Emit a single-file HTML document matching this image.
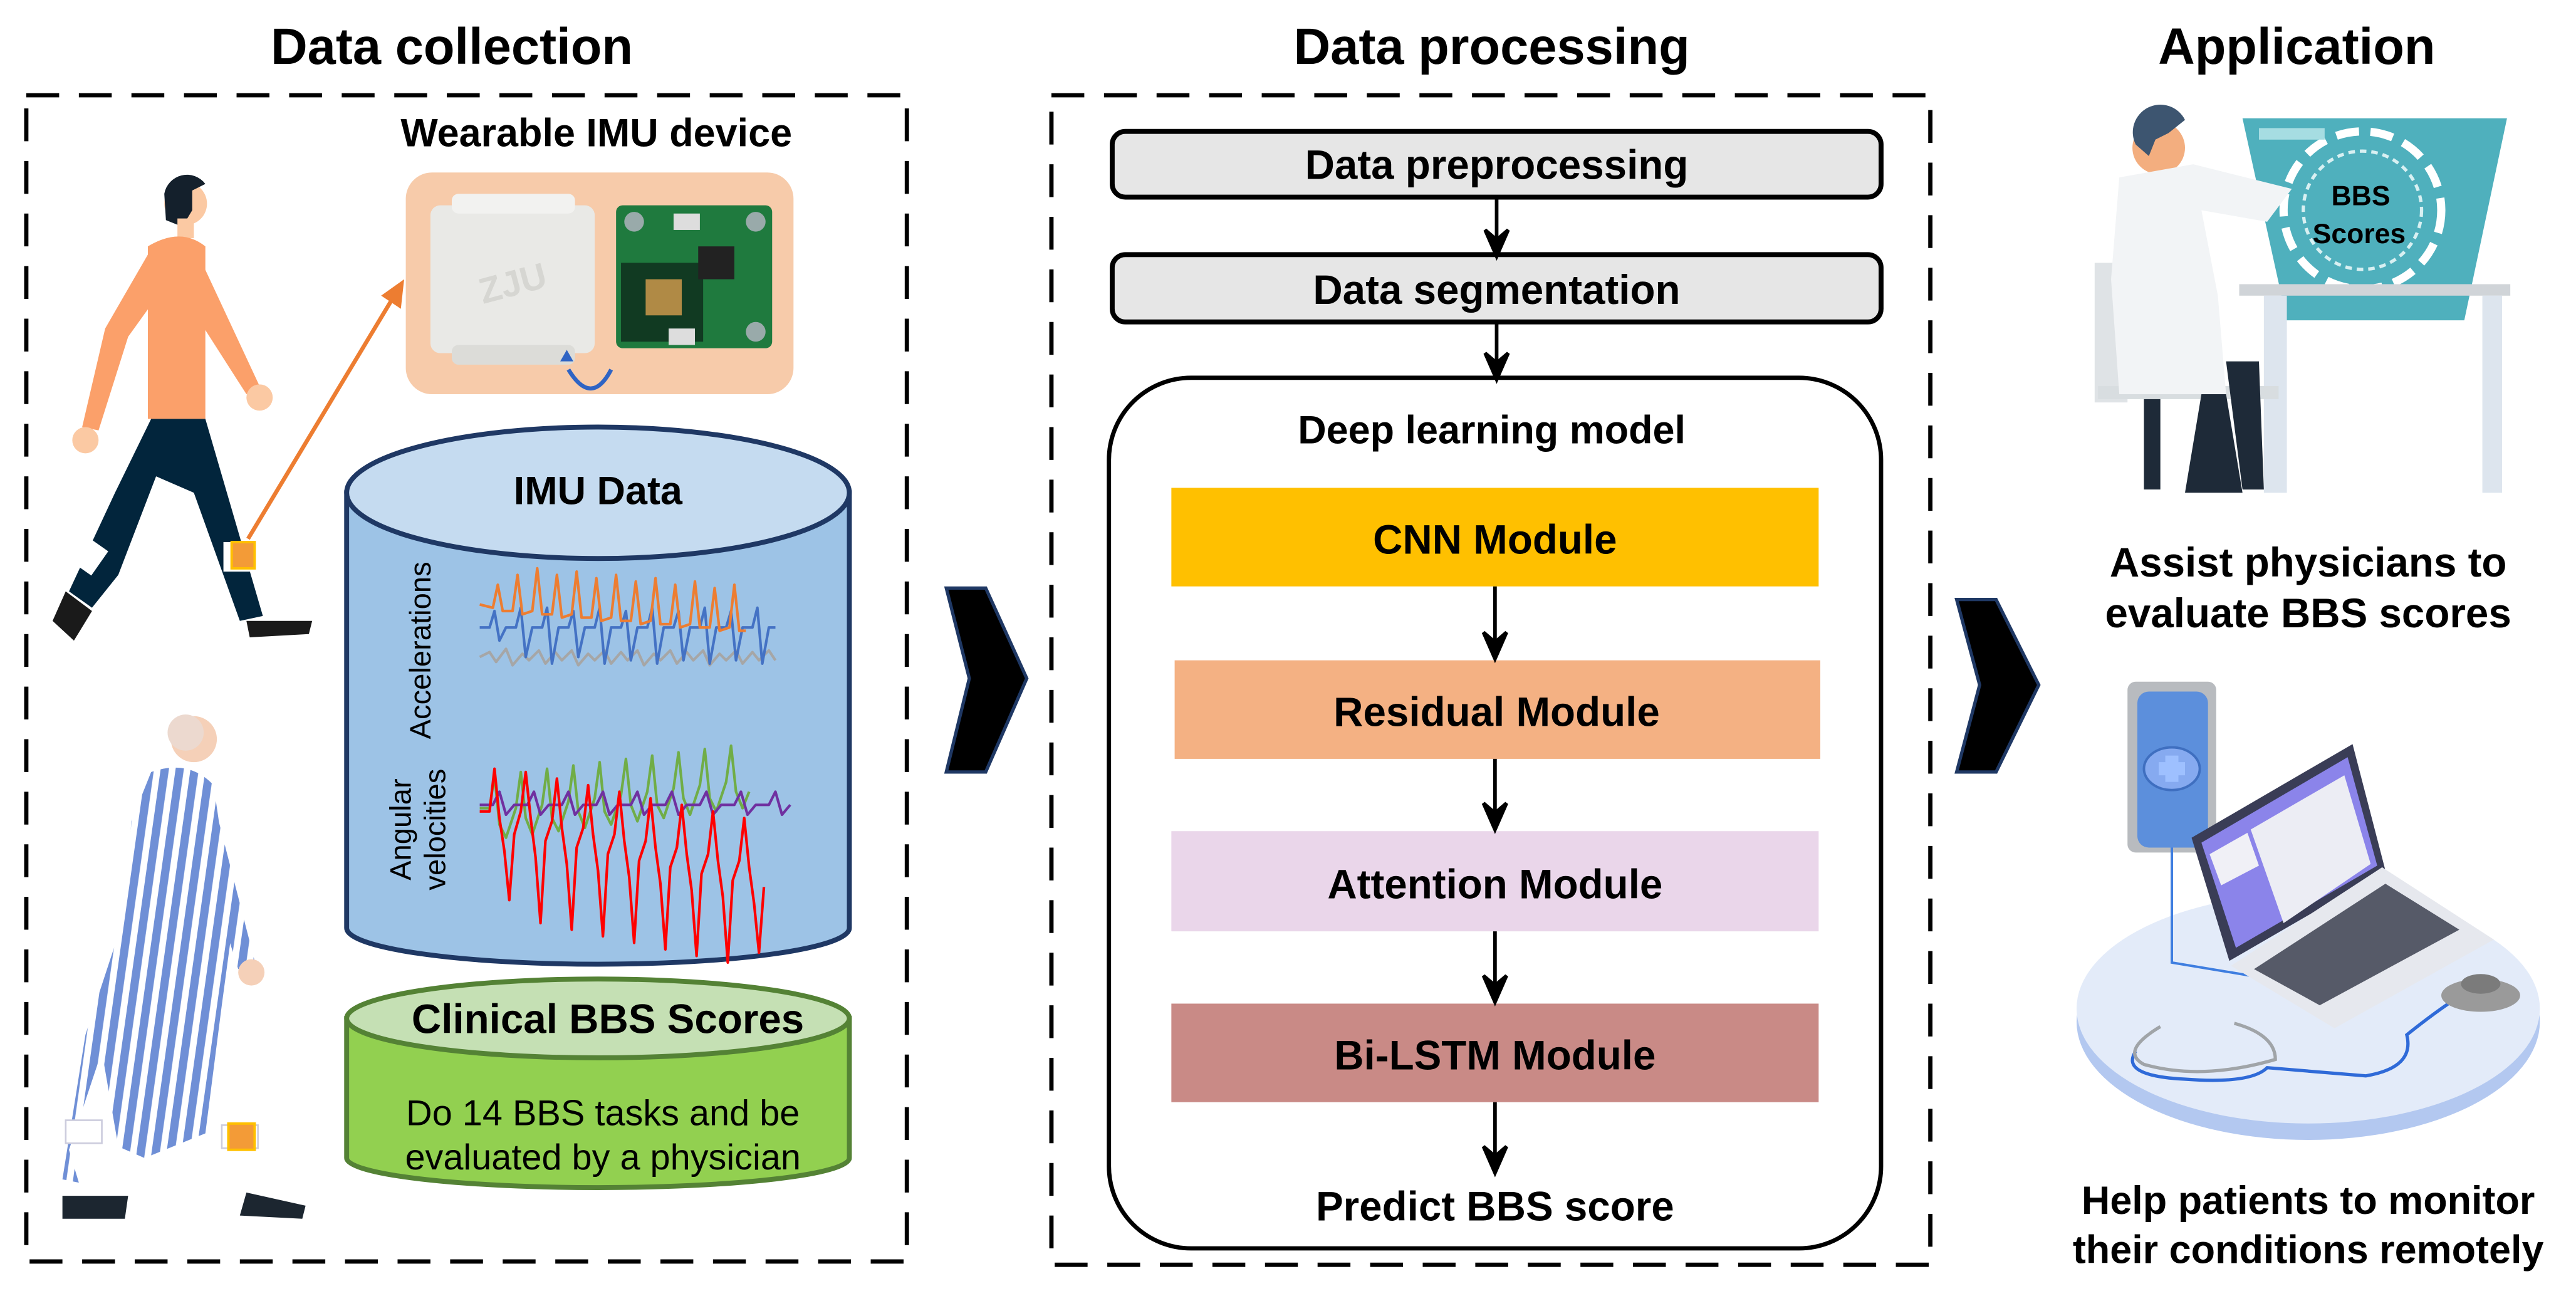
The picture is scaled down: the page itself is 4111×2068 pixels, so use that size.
<!DOCTYPE html>
<html><head><meta charset="utf-8"><style>
html,body{margin:0;padding:0;background:#fff;}
svg{display:block}
text{font-family:"Liberation Sans",Arial,sans-serif;}
.b{font-weight:bold}
</style></head><body>
<svg width="4111" height="2068" viewBox="0 0 1568 789" preserveAspectRatio="none" xmlns="http://www.w3.org/2000/svg">
<defs>
<pattern id="str" width="9" height="9" patternUnits="userSpaceOnUse" patternTransform="rotate(8)">
<rect width="9" height="9" fill="#fff"/><rect width="5" height="9" fill="#6f8fd6"/></pattern>
</defs>
<!-- titles -->
<text x="275" y="39" font-size="31" class="b" text-anchor="middle">Data collection</text>
<text x="908" y="39" font-size="31" class="b" text-anchor="middle">Data processing</text>
<text x="1398" y="39" font-size="31" class="b" text-anchor="middle">Application</text>
<!-- dashed boxes -->
<rect x="16" y="58" width="536" height="710" fill="none" stroke="#000" stroke-width="2.6" stroke-dasharray="20 12"/>
<rect x="640" y="58" width="535" height="712" fill="none" stroke="#000" stroke-width="2.6" stroke-dasharray="20 12"/>

<!-- wearable -->
<text x="363" y="89" font-size="24" class="b" text-anchor="middle">Wearable IMU device</text>
<rect x="247" y="105" width="236" height="135" rx="16" fill="#f7cbaa"/>
<rect x="262" y="125" width="100" height="90" rx="6" fill="#e9e9e6"/>
<rect x="275" y="118" width="75" height="12" rx="4" fill="#f2f2f0"/>
<rect x="275" y="210" width="75" height="12" rx="4" fill="#dcdcd8"/>
<text x="312" y="180" font-size="22" class="b" fill="#d6d6d2" text-anchor="middle" transform="rotate(-15 312 172)">ZJU</text>
<rect x="375" y="125" width="95" height="87" rx="4" fill="#1f7a3e"/>
<rect x="378" y="160" width="50" height="48" fill="#113a22"/>
<rect x="393" y="170" width="22" height="22" fill="#b08a45"/>
<rect x="425" y="150" width="22" height="20" fill="#222"/>
<rect x="410" y="130" width="16" height="10" fill="#ddd"/>
<rect x="407" y="200" width="16" height="10" fill="#ddd"/>
<circle cx="386" cy="135" r="6" fill="#9aa"/><circle cx="460" cy="135" r="6" fill="#9aa"/><circle cx="460" cy="202" r="6" fill="#9aa"/>
<path d="M346,225 Q360,248 372,225" fill="none" stroke="#2f64c4" stroke-width="2.5"/>
<path d="M341,220 l4,-7 l4,7z" fill="#2f64c4"/>
<line x1="151" y1="328" x2="240" y2="180" stroke="#ed7d31" stroke-width="2.5"/>
<path d="M246,170 L232,180 L244,188z" fill="#ed7d31"/>

<!-- walking man -->
<circle cx="113" cy="124" r="13" fill="#fbc9a3"/>
<path d="M100,118 a14,14 0 0 1 25,-6 l-8,4 l0,12 l-6,10 l-10,-4z" fill="#14202c"/>
<rect x="108" y="133" width="10" height="12" fill="#fbc9a3"/>
<path d="M90,150 Q110,138 125,150 L125,255 L90,255z" fill="#fba06a"/>
<path d="M90,155 L64,200 L50,260 L60,262 L78,205 L96,180z" fill="#fba06a"/>
<circle cx="52" cy="268" r="8" fill="#fbc9a3"/>
<path d="M123,160 L158,235 L150,240 L118,190z" fill="#fba06a"/>
<circle cx="158" cy="242" r="8" fill="#fbc9a3"/>
<path d="M92,255 L125,255 L160,375 L146,378 L118,300 L95,290 L72,350 L56,370 L42,360 L70,300z" fill="#02253c"/>
<rect x="48" y="330" width="14" height="18" fill="#fff" transform="rotate(35 55 339)"/>
<rect x="136" y="330" width="20" height="18" fill="#fff"/>
<rect x="141" y="330" width="14" height="16" fill="#f39b37" stroke="#ffc000" stroke-width="1.5"/>
<path d="M40,360 L32,378 L45,390 L56,372z" fill="#1a1a1a"/>
<path d="M150,378 L190,378 L188,386 L152,388z" fill="#1a1a1a"/>

<!-- elderly man -->
<circle cx="118" cy="450" r="14" fill="#f5d0b8"/>
<circle cx="113" cy="446" r="11" fill="#ecd9cf"/>
<path d="M92,470 Q115,462 130,478 L142,560 L135,612 L125,690 L88,705 L72,698 L62,640 L42,700 L48,720 L38,718 L52,630 L75,560 L80,500z" fill="url(#str)"/>
<path d="M128,480 L155,585 L145,590 L120,510z" fill="url(#str)"/>
<circle cx="153" cy="592" r="8" fill="#f5d0b8"/>
<rect x="40" y="682" width="22" height="14" fill="#fff" stroke="#ccd" stroke-width="1"/>
<rect x="135" y="685" width="22" height="14" fill="#fff" stroke="#ccd" stroke-width="1"/>
<rect x="139" y="684" width="16" height="16" fill="#f39b37" stroke="#ffc000" stroke-width="1.5"/>
<path d="M38,728 L78,728 L76,742 L38,742z" fill="#1c2630"/>
<path d="M150,726 L186,734 L184,742 L146,740z" fill="#1c2630"/>

<!-- IMU cylinder -->
<path d="M211,300 L211,565 A153,22 0 0 0 517,565 L517,300z" fill="#9dc3e6" stroke="#1f3864" stroke-width="3"/>
<ellipse cx="364" cy="300" rx="153" ry="40" fill="#c5dbf0" stroke="#1f3864" stroke-width="3"/>
<text x="364" y="307" font-size="24" class="b" text-anchor="middle">IMU Data</text>
<text x="0" y="0" font-size="18" transform="translate(262,450) rotate(-90)">Accelerations</text>
<text x="0" y="0" font-size="18" text-anchor="middle" transform="translate(250,505) rotate(-90)">Angular</text>
<text x="0" y="0" font-size="18" text-anchor="middle" transform="translate(271,505) rotate(-90)">velocities</text>
<g fill="none" stroke-width="1.6" stroke-linejoin="round">
<path stroke="#a6a6a6" d="M292,400 l6,-3 l4,6 l6,-8 l4,10 l6,-7 l4,4 l6,-6 l4,8 l6,-7 l4,5 l6,-6 l4,9 l6,-7 l4,4 l6,-6 l4,8 l6,-7 l4,5 l6,-6 l4,9 l6,-7 l4,4 l6,-6 l4,8 l6,-7 l4,5 l6,-6 l4,9 l6,-7 l4,4 l6,-6 l4,8 l6,-7 l4,5 l6,-6 l4,6"/>
<path stroke="#4472c4" d="M292,382 l6,0 l3,-10 l3,18 l4,-8 l6,0 l3,-12 l3,30 l4,-18 l6,0 l3,-12 l3,34 l4,-22 l6,0 l3,-10 l3,28 l4,-18 l6,0 l3,-12 l3,34 l4,-22 l6,0 l3,-10 l3,30 l4,-20 l6,0 l3,-12 l3,34 l4,-22 l6,0 l3,-10 l3,30 l4,-20 l6,0 l3,-12 l3,34 l4,-22 l6,0 l3,-10 l3,30 l4,-20 l6,0 l3,-12 l3,34 l4,-22 l4,0"/>
<path stroke="#ed7d31" d="M292,368 l8,2 l3,-14 l3,16 l6,0 l3,-22 l3,24 l6,-2 l3,-26 l3,28 l6,0 l3,-24 l3,26 l6,-2 l3,-26 l3,28 l6,0 l3,-24 l3,26 l6,-2 l3,-26 l3,28 l6,0 l3,-24 l3,26 l6,-2 l3,-26 l3,28 l6,0 l3,-24 l3,26 l6,-2 l3,-26 l3,28 l6,0 l3,-24 l3,26 l6,-2 l3,-26 l3,28 l4,0"/>
<path stroke="#70ad47" d="M292,492 l6,0 l3,-20 l3,30 l4,8 l6,-18 l3,-22 l3,28 l4,10 l6,-18 l3,-22 l3,30 l4,8 l6,-18 l3,-22 l3,28 l4,10 l6,-18 l3,-22 l3,30 l4,8 l6,-18 l3,-22 l3,28 l4,10 l6,-18 l3,-22 l3,30 l4,8 l6,-18 l3,-22 l3,28 l4,10 l6,-18 l3,-22 l3,30 l4,8 l6,-18 l3,-22 l3,28 l4,10 l4,-10"/>
<path stroke="#7030a0" d="M292,490 l8,0 l4,-8 l4,14 l5,-6 l8,0 l4,-8 l4,14 l5,-6 l8,0 l4,-8 l4,14 l5,-6 l8,0 l4,-8 l4,14 l5,-6 l8,0 l4,-8 l4,14 l5,-6 l8,0 l4,-8 l4,14 l5,-6 l8,0 l4,-8 l4,14 l5,-6 l8,0 l4,-8 l4,14 l5,-6 l8,0 l4,-8 l4,14 l5,-6"/>
<path stroke="#ff0000" d="M292,494 l6,0 l3,-26 l3,30 l3,20 l3,30 l3,-40 l4,-14 l3,-24 l3,28 l3,24 l3,40 l3,-50 l4,-12 l3,-26 l3,30 l3,22 l3,40 l3,-50 l4,-12 l3,-26 l3,30 l3,22 l3,40 l3,-50 l4,-12 l3,-26 l3,30 l3,22 l3,40 l3,-50 l4,-12 l3,-26 l3,30 l3,22 l3,40 l3,-50 l4,-12 l3,-26 l3,30 l3,22 l3,40 l3,-50 l4,-12 l3,-26 l3,30 l3,22 l3,40 l3,-50 l4,-12 l3,-26 l3,30 l3,22 l3,30 l3,-40"/>
</g>

<!-- Clinical cylinder -->
<path d="M211,620 L211,705 A153,18 0 0 0 517,705 L517,620z" fill="#92d050" stroke="#548235" stroke-width="3"/>
<ellipse cx="364" cy="620" rx="153" ry="24" fill="#c5e0b4" stroke="#548235" stroke-width="3"/>
<text x="370" y="629" font-size="25" class="b" text-anchor="middle">Clinical BBS Scores</text>
<text x="367" y="685" font-size="22" text-anchor="middle">Do 14 BBS tasks and be</text>
<text x="367" y="712" font-size="22" text-anchor="middle">evaluated by a physician</text>

<!-- big arrows -->
<path d="M576,358 L600,358 L625,413 L600,470 L576,470 L590,413z" fill="#000" stroke="#1f3864" stroke-width="2"/>
<path d="M1191,365 L1215,365 L1241,417 L1215,470 L1191,470 L1205,417z" fill="#000" stroke="#1f3864" stroke-width="2"/>

<!-- processing -->
<rect x="677" y="80" width="468" height="40" rx="8" fill="#e6e6e6" stroke="#000" stroke-width="3"/>
<text x="911" y="109" font-size="25" class="b" text-anchor="middle">Data preprocessing</text>
<rect x="677" y="155" width="468" height="41" rx="8" fill="#e6e6e6" stroke="#000" stroke-width="3"/>
<text x="911" y="185" font-size="25" class="b" text-anchor="middle">Data segmentation</text>
<rect x="675" y="230" width="470" height="530" rx="50" fill="#fff" stroke="#000" stroke-width="2.6"/>
<text x="908" y="270" font-size="24" class="b" text-anchor="middle">Deep learning model</text>
<rect x="713" y="297" width="394" height="60" fill="#ffc000"/>
<text x="910" y="337" font-size="25" class="b" text-anchor="middle">CNN Module</text>
<rect x="715" y="402" width="393" height="60" fill="#f4b183"/>
<text x="911" y="442" font-size="25" class="b" text-anchor="middle">Residual Module</text>
<rect x="713" y="506" width="394" height="61" fill="#ead6ea"/>
<text x="910" y="547" font-size="25" class="b" text-anchor="middle">Attention Module</text>
<rect x="713" y="611" width="394" height="60" fill="#c98a86"/>
<text x="910" y="651" font-size="25" class="b" text-anchor="middle">Bi-LSTM Module</text>
<text x="910" y="743" font-size="25" class="b" text-anchor="middle">Predict BBS score</text>
<g stroke="#000" stroke-width="2.2" fill="#000">
<line x1="911" y1="120" x2="911" y2="148"/><path d="M904,140 L911,156 L918,140 L911,146z"/>
<line x1="911" y1="196" x2="911" y2="223"/><path d="M904,215 L911,231 L918,215 L911,221z"/>
<line x1="910" y1="357" x2="910" y2="393"/><path d="M903,385 L910,401 L917,385 L910,391z"/>
<line x1="910" y1="462" x2="910" y2="497"/><path d="M903,489 L910,505 L917,489 L910,495z"/>
<line x1="910" y1="567" x2="910" y2="602"/><path d="M903,594 L910,610 L917,594 L910,600z"/>
<line x1="910" y1="671" x2="910" y2="706"/><path d="M903,698 L910,714 L917,698 L910,704z"/>
</g>

<!-- doctor illustration -->
<path d="M1365,72 L1526,72 L1500,195 L1392,195z" fill="#4fb0bd"/>
<circle cx="1438" cy="128" r="48" fill="none" stroke="#fff" stroke-width="5" stroke-dasharray="14 7"/>
<circle cx="1438" cy="128" r="36" fill="none" stroke="#d8f0f2" stroke-width="2" stroke-dasharray="4 3"/>
<rect x="1375" y="78" width="40" height="7" fill="#a6dde2"/>
<text x="1437" y="125" font-size="17" class="b" text-anchor="middle">BBS</text>
<text x="1436" y="148" font-size="17" class="b" text-anchor="middle">Scores</text>
<rect x="1363" y="173" width="165" height="7" fill="#d0d4d8"/>
<rect x="1378" y="180" width="14" height="120" fill="#dde5ee"/>
<rect x="1511" y="180" width="12" height="120" fill="#dde5ee"/>
<rect x="1275" y="160" width="20" height="85" fill="#dfe3e6"/>
<rect x="1277" y="235" width="110" height="8" fill="#d8dde0"/>
<rect x="1305" y="243" width="10" height="55" fill="#1e2a38"/>
<circle cx="1314" cy="90" r="16" fill="#f3ae7f"/>
<path d="M1300,88 a16,16 0 0 1 30,-15 l-10,8 l-8,4 l-4,10z" fill="#3d5570"/>
<path d="M1290,108 L1335,100 L1395,115 L1380,135 L1340,128 L1350,180 L1355,240 L1290,240 L1285,170z" fill="#f2f4f6"/>
<path d="M1340,240 L1355,240 L1365,300 L1330,300z" fill="#1e2a38"/>
<path d="M1355,220 L1375,220 L1378,298 L1365,298z" fill="#1e2a38"/>
<text x="1405" y="351" font-size="25" class="b" text-anchor="middle">Assist physicians to</text>
<text x="1405" y="382" font-size="25" class="b" text-anchor="middle">evaluate BBS scores</text>

<!-- laptop illustration -->
<ellipse cx="1405" cy="622" rx="141" ry="72" fill="#b3c8f0"/>
<ellipse cx="1405" cy="614" rx="141" ry="70" fill="#e3ebf9"/>
<rect x="1295" y="415" width="54" height="104" rx="5" fill="#b8bbbf"/>
<rect x="1301" y="421" width="43" height="95" rx="7" fill="#5c8fdc"/>
<ellipse cx="1322" cy="468" rx="17" ry="13" fill="#86aaf0" stroke="#3f6fc0" stroke-width="1.5"/>
<path d="M1318,460 h8 v4 h4 v8 h-4 v4 h-8 v-4 h-4 v-8 h4z" fill="#9ec0ff"/>
<path d="M1322,516 L1322,586 L1370,594" fill="none" stroke="#3f7ee0" stroke-width="1.5"/>
<path d="M1357,585 L1334,510 L1432,453 L1452,530z" fill="#3a3d56"/>
<path d="M1361,577 L1340,513 L1429,461 L1447,527z" fill="#8b84ea"/>
<path d="M1390,562 L1370,505 L1427,472 L1443,526z" fill="#ecedf4"/>
<path d="M1345,520 L1368,507 L1375,527 L1352,539z" fill="#f0f0f6"/>
<path d="M1358,588 L1450,528 L1518,572 L1421,626z" fill="#e6e8ee"/>
<path d="M1372,590 L1452,538 L1497,566 L1412,612z" fill="#565a68"/>
<path d="M1300,640 Q1290,655 1330,657 Q1370,660 1380,650 L1440,655 Q1470,650 1465,630 Q1490,610 1505,602" fill="none" stroke="#2f6ad8" stroke-width="2"/>
<path d="M1315,625 Q1290,640 1305,648 Q1340,658 1385,645 Q1385,630 1360,623" fill="none" stroke="#a0a4a8" stroke-width="2"/>
<ellipse cx="1510" cy="606" rx="24" ry="10" fill="#9a9a9a"/>
<ellipse cx="1510" cy="599" rx="12" ry="6" fill="#7b7b7b"/>
<text x="1405" y="739" font-size="24" class="b" text-anchor="middle">Help patients to monitor</text>
<text x="1405" y="769" font-size="24" class="b" text-anchor="middle">their conditions remotely</text>
</svg>
</body></html>
